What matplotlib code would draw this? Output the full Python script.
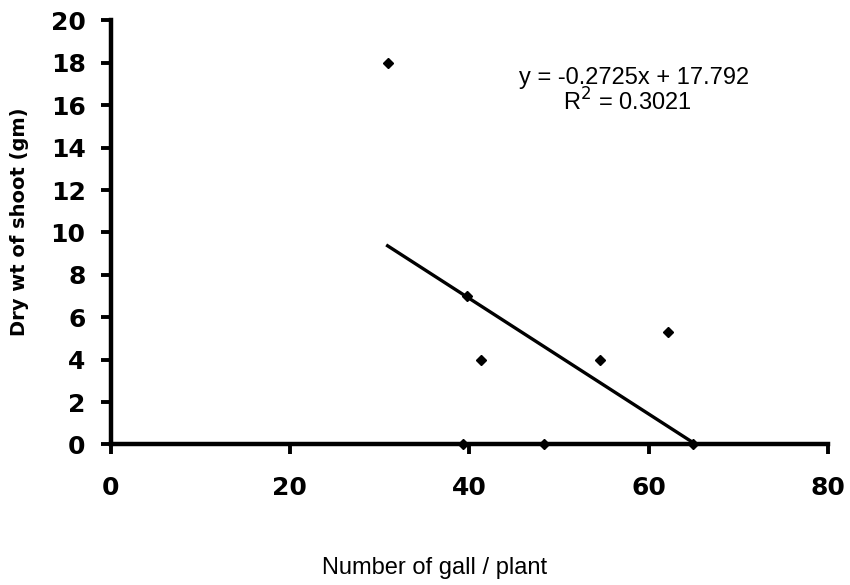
import matplotlib
matplotlib.use("Agg")
import matplotlib.pyplot as plt
import numpy as np

plt.rcParams['font.family'] = ['Liberation Sans', 'DejaVu Sans']

# galls per plant vs dry weight of shoot
galls = [30.9, 39.8, 41.3, 54.6, 62.2, 39.3, 48.3, 65.0]
dry_wt = [18, 7, 4, 4, 5.3, 0, 0, 0]

# trendline as reported
slope = -0.2725
intercept = 17.792
r2 = 0.3021

fig = plt.figure(figsize=(8.5, 5.85), dpi=100)
ax = fig.add_axes([0.130, 0.2402, 0.844, 0.7248])

ax.plot(galls, dry_wt, linestyle='none', marker='D', markersize=4.8,
        color='black', zorder=3, clip_on=False)

xs = np.array([min(galls), max(galls)])
ax.plot(xs, slope * xs + intercept, color='black', linewidth=2.4, zorder=2)

ax.set_xlim(0, 80)
ax.set_ylim(0, 20)
ax.set_xticks(range(0, 81, 20))
ax.set_yticks(range(0, 21, 2))

for s in ['top', 'right']:
    ax.spines[s].set_visible(False)
for s in ['left', 'bottom']:
    ax.spines[s].set_linewidth(3.2)

ax.tick_params(axis='y', direction='out', length=7, width=2.8, pad=11,
               labelsize=18)
ax.tick_params(axis='x', direction='out', length=7, width=2.8, pad=16,
               labelsize=18)
for lab in ax.get_xticklabels() + ax.get_yticklabels():
    lab.set_fontweight('bold')
    lab.set_family('DejaVu Sans')

ax.set_ylabel('Dry wt of shoot (gm)', fontsize=14, fontweight='bold',
              family='DejaVu Sans')
ax.yaxis.set_label_coords(-0.114, 0.525)
ax.set_xlabel('Number of gall / plant', fontsize=17)
ax.xaxis.set_label_coords(0.452, -0.265)

ax.text(0.73, 0.865, f'y = {slope}x + {intercept}', transform=ax.transAxes,
        ha='center', va='center', fontsize=17)
ax.text(0.72, 0.807, f'R$^2$ = {r2}', transform=ax.transAxes,
        ha='center', va='center', fontsize=17)

fig.savefig('out.png', dpi=100)
